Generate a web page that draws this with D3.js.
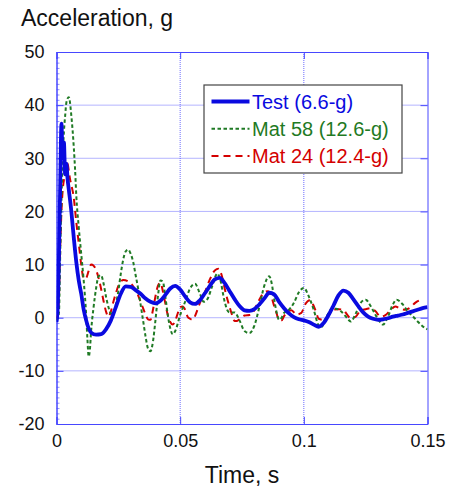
<!DOCTYPE html>
<html>
<head>
<meta charset="utf-8">
<script src="https://cdn.jsdelivr.net/npm/d3@7"></script>
<style>
  body { margin: 0; background: #fff; }
  text { font-family: "Liberation Sans", Arial, sans-serif; fill: #111; }
</style>
</head>
<body>
<div id="chart"></div>
<script>
// Test data (blue, solid)
var testT = [0, 0.0005, 0.001, 0.0015, 0.002, 0.0025, 0.003, 0.0035, 0.004, 0.0045, 0.005, 0.006, 0.007, 0.008, 0.009,
  0.010, 0.011, 0.012, 0.013, 0.014, 0.016, 0.018, 0.020, 0.022, 0.024, 0.026, 0.028, 0.030, 0.032, 0.034, 0.036,
  0.038, 0.040, 0.042, 0.044, 0.046, 0.048, 0.050, 0.052, 0.054, 0.056, 0.058, 0.060, 0.062, 0.064, 0.066, 0.068,
  0.070, 0.072, 0.074, 0.076, 0.078, 0.080, 0.082, 0.084, 0.086, 0.088, 0.090, 0.092, 0.094, 0.096, 0.098, 0.100,
  0.102, 0.104, 0.106, 0.108, 0.110, 0.112, 0.114, 0.116, 0.118, 0.120, 0.122, 0.124, 0.126, 0.128, 0.130, 0.132,
  0.134, 0.136, 0.138, 0.140, 0.142, 0.144, 0.146, 0.148, 0.150]
var testG = [-0.8, 2, 12, 25, 36.5, 30, 33, 27, 29, 26, 24, 20, 15, 10.5, 7,
  4.5, 1.5, -0.5, -2, -2.8, -3.2, -3.1, -2.2, -0.5, 2.0, 4.5, 5.9, 5.8, 5.2, 4.5, 3.6,
  3.0, 2.7, 3.2, 4.3, 5.5, 6.0, 5.3, 4.0, 2.9, 2.6, 3.3, 4.6, 6.0, 7.2, 7.5, 6.5,
  5.0, 3.5, 2.2, 1.4, 1.3, 1.6, 2.5, 3.6, 4.7, 4.4, 3.0, 1.8, 0.8, 0.1, -0.3, -0.5,
  -0.8, -1.3, -1.7, -1.0, 0.5, 2.3, 4.2, 5.1, 4.7, 3.5, 2.2, 1.0, 0.2, -0.2, -0.4, -0.3,
  -0.1, 0.2, 0.4, 0.6, 0.9, 1.2, 1.5, 1.8, 2.0]

// Mat 58 (green, dotted)
var mat58T = [0, 0.0005, 0.001, 0.0015, 0.002, 0.0025, 0.003, 0.0035, 0.004, 0.005, 0.006, 0.007, 0.0075, 0.008,
  0.009, 0.010, 0.011, 0.012, 0.0125, 0.013, 0.0135, 0.014, 0.015, 0.016, 0.017, 0.018, 0.019, 0.020, 0.021, 0.022,
  0.023, 0.024, 0.025, 0.026, 0.027, 0.028, 0.029, 0.030, 0.031, 0.032, 0.033, 0.034, 0.035, 0.036, 0.037, 0.038,
  0.039, 0.040, 0.041, 0.042, 0.043, 0.044, 0.045, 0.046, 0.047, 0.048, 0.050, 0.052, 0.054, 0.056, 0.058, 0.0595,
  0.061, 0.063, 0.065, 0.066, 0.068, 0.069, 0.070, 0.072, 0.074, 0.076, 0.078, 0.080, 0.082, 0.084, 0.086, 0.087,
  0.088, 0.089, 0.090, 0.091, 0.092, 0.094, 0.096, 0.098, 0.100, 0.102, 0.104, 0.106, 0.107, 0.109, 0.111, 0.113,
  0.115, 0.117, 0.119, 0.121, 0.123, 0.125, 0.127, 0.129, 0.131, 0.132, 0.134, 0.136, 0.1375, 0.140, 0.142, 0.144,
  0.146, 0.148, 0.150]
var mat58G = [-0.5, 0, 1, 12, 22, 30, 35, 38, 40.5, 41.5, 38, 32, 28, 23,
  17, 12, 7, 0.5, -4, -7.3, -6, -2.5, 2, 5.5, 7.8, 8, 6.5, 4, 2, 0.8,
  1.0, 2.5, 5, 8.3, 11, 12.5, 12.8, 12, 10.5, 8, 5.5, 2.5, -0.5, -3.5, -5.8, -6.3,
  -4.5, -0.5, 4, 7, 6.8, 4, 0.5, -2, -3.1, -2.5, 0.5, 3, 5.5, 6.4, 4.5, 3.0,
  3.5, 6, 8.3, 7.5, 3, 1.5, 1.0, 1.0, -0.5, -2.5, -2.9, -1.5, 2, 6, 7.8, 6.5,
  3.5, 1.0, -0.4, 0, 0.9, 1.5, 2.8, 4.8, 5.6, 4, 1.5, -1.5, -1.8, 0, 1.5, 1.7,
  1.2, 0.2, -0.7, 0.8, 2.8, 3.4, 2.2, 0.5, -0.9, -1.3, 0.2, 2.5, 3.4, 2.5, 1.2, 0.3,
  -0.7, -1.6, -2.2]

// Mat 24 (red, dashed)
var mat24T = [0, 0.0005, 0.001, 0.0015, 0.002, 0.0025, 0.003, 0.0035, 0.004, 0.0045, 0.005, 0.0055, 0.006, 0.007,
  0.008, 0.009, 0.010, 0.011, 0.012, 0.013, 0.014, 0.015, 0.016, 0.017, 0.018, 0.019, 0.020, 0.021, 0.022, 0.023,
  0.024, 0.025, 0.026, 0.027, 0.029, 0.031, 0.033, 0.034, 0.035, 0.036, 0.037, 0.038, 0.039, 0.040, 0.041, 0.042,
  0.043, 0.044, 0.045, 0.046, 0.047, 0.048, 0.049, 0.050, 0.051, 0.052, 0.053, 0.054, 0.055, 0.056, 0.057, 0.058,
  0.060, 0.062, 0.064, 0.0655, 0.067, 0.068, 0.069, 0.070, 0.071, 0.072, 0.073, 0.074, 0.075, 0.076, 0.078, 0.079,
  0.080, 0.082, 0.084, 0.0855, 0.087, 0.088, 0.089, 0.090, 0.091, 0.092, 0.094, 0.095, 0.097, 0.099, 0.1005, 0.1025,
  0.104, 0.105, 0.106, 0.108, 0.110, 0.112, 0.114, 0.116, 0.117, 0.119, 0.121, 0.123, 0.125, 0.127, 0.129, 0.131,
  0.133, 0.135, 0.137, 0.139, 0.141, 0.143, 0.145, 0.1475]
var mat24G = [0, 0.5, 4, 13, 20, 24, 26, 28, 29, 29, 27.5, 26, 25, 22.5,
  18, 14, 10, 7.3, 7.5, 8.8, 10, 9.8, 9, 7.5, 5.5, 3.2, 1.2, 0.2, 1.2, 3,
  4.6, 6, 6.8, 7.1, 6.8, 5.9, 4.2, 3.0, 1.8, 0.6, -0.3, -0.4, 1.5, 4, 6, 6.6,
  5, 2.7, 0.5, -0.8, -1.3, -0.6, 0.8, 2.0, 2.1, 1.5, 0.2, -0.2, -0.4, 0.3, 1.5, 2.8,
  4.8, 7.2, 8.9, 9.2, 7.6, 5.5, 3.6, 2.0, 0.5, -0.6, -0.6, -0.3, 0.1, 0.4, 0.5, 0.6,
  1.5, 3.4, 4.8, 5.0, 3.8, 2.2, 0.8, -0.5, -0.5, 0.3, 1.3, 1.4, 0.6, 0.9, 2.5, 3.3,
  2.2, 1.0, -0.2, -0.4, 0.5, 1.5, 1.6, 1.5, 0.9, -0.1, 0.2, 1.4, 1.6, 1.8, 1.2, 0.2,
  0.5, 1.4, 2.1, 1.7, 1.5, 1.9, 2.8, 3.4]

var xTicks = [0, 0.05, 0.1, 0.15]
var xTickLabels = ['0', '0.05', '0.1', '0.15']
var yTicks = [-20, -10, 0, 10, 20, 30, 40, 50]
var legendLabels = ['Test (6.6-g)', 'Mat 58 (12.6-g)', 'Mat 24 (12.4-g)']

var series = [
  { name: legendLabels[0], t: testT, g: testG, color: '#0a0ae0', width: 3.8, dash: null },
  { name: legendLabels[1], t: mat58T, g: mat58G, color: '#1f7a24', width: 2, dash: '3.5,2.5' },
  { name: legendLabels[2], t: mat24T, g: mat24G, color: '#d40000', width: 2, dash: '7,5' }
]

var W = 451, H = 490
var pLeft = 56.5, pRight = 427.5, pTop = 52, pBottom = 424
var frameColor = '#4848ff'

var xScale = d3.scaleLinear().domain([0, 0.15]).range([pLeft, pRight])
var yScale = d3.scaleLinear().domain([-20, 50]).range([pBottom, pTop])

var svg = d3.select('#chart').append('svg')
    .attr('width', W)
    .attr('height', H)

// grid (dotted)
svg.append('g').selectAll('line')
    .data(xTicks.slice(1, -1))
    .enter().append('line')
    .attr('x1', function (d) { return xScale(d) }).attr('x2', function (d) { return xScale(d) })
    .attr('y1', pTop).attr('y2', pBottom)
    .attr('stroke', frameColor).attr('stroke-width', 1).attr('stroke-dasharray', '1,1')
    .attr('opacity', 0.8)
svg.append('g').selectAll('line')
    .data(yTicks.slice(1, -1))
    .enter().append('line')
    .attr('y1', function (d) { return yScale(d) }).attr('y2', function (d) { return yScale(d) })
    .attr('x1', pLeft).attr('x2', pRight)
    .attr('stroke', frameColor).attr('stroke-width', 1).attr('stroke-dasharray', '1,1')
    .attr('opacity', 0.8)

// axes with inward ticks
var xAxisB = d3.axisBottom(xScale).tickValues(xTicks).tickSize(-7).tickPadding(10)
    .tickFormat(function (d, i) { return xTickLabels[i] })
var xAxisT = d3.axisTop(xScale).tickValues(xTicks).tickSize(-7).tickFormat('')
var yAxisL = d3.axisLeft(yScale).tickValues(yTicks).tickSize(-7).tickPadding(12)
    .tickFormat(function (d) { return String(d) })
var yAxisR = d3.axisRight(yScale).tickValues(yTicks).tickSize(-7).tickFormat('')
var yMinor = d3.axisLeft(yScale).tickValues(d3.range(-20, 51, 1)).tickSize(-3).tickFormat('')

function styleAxis(g) {
  g.selectAll('path, line').attr('stroke', frameColor)
  g.selectAll('text').style('font-size', '18px').style('font-family', '"Liberation Sans", Arial, sans-serif').attr('fill', '#111')
}

svg.append('g').attr('transform', 'translate(0,' + pBottom + ')').call(xAxisB).call(styleAxis)
svg.append('g').attr('transform', 'translate(0,' + pTop + ')').call(xAxisT).call(styleAxis)
svg.append('g').attr('transform', 'translate(' + pLeft + ',0)').call(yMinor).call(styleAxis)
    .selectAll('line').attr('stroke-width', 0.6)
svg.append('g').attr('transform', 'translate(' + pLeft + ',0)').call(yAxisL).call(styleAxis)
svg.append('g').attr('transform', 'translate(' + pRight + ',0)').call(yAxisR).call(styleAxis)

// clip
svg.append('clipPath').attr('id', 'plotClip')
  .append('rect').attr('x', pLeft).attr('y', pTop).attr('width', pRight - pLeft).attr('height', pBottom - pTop)

var line = d3.line()
    .x(function (d) { return xScale(d[0]) })
    .y(function (d) { return yScale(d[1]) })
    .curve(d3.curveMonotoneX)

// draw red, green, then blue on top
var drawOrder = [series[2], series[1], series[0]]
svg.append('g').attr('clip-path', 'url(#plotClip)')
  .selectAll('path')
    .data(drawOrder)
    .enter().append('path')
    .attr('d', function (s) { return line(s.t.map(function (t, i) { return [t, s.g[i]] })) })
    .attr('fill', 'none')
    .attr('stroke', function (s) { return s.color })
    .attr('stroke-width', function (s) { return s.width })
    .attr('stroke-dasharray', function (s) { return s.dash })
    .attr('stroke-linejoin', 'round')

// legend
var lg = svg.append('g')
lg.append('rect')
    .attr('x', 204).attr('y', 85).attr('width', 198).attr('height', 88)
    .attr('fill', '#fff').attr('stroke', '#444').attr('stroke-width', 1.2)
var items = lg.selectAll('g.item')
    .data(series)
    .enter().append('g')
    .attr('transform', function (d, i) { return 'translate(0,' + (101.5 + i * 27.3) + ')' })
items.append('line')
    .attr('x1', 211.5).attr('x2', 249.5).attr('y1', 0).attr('y2', 0)
    .attr('stroke', function (d) { return d.color })
    .attr('stroke-width', function (d) { return d.width })
    .attr('stroke-dasharray', function (d) { return d.dash })
items.append('text')
    .attr('x', 252).attr('y', 7)
    .style('font-size', '20px')
    .style('fill', function (d) { return d.color })
    .text(function (d) { return d.name })

// titles
svg.append('text')
    .attr('x', 21).attr('y', 26)
    .style('font-size', '23px')
    .text('Acceleration, g')
svg.append('text')
    .attr('x', (pLeft + pRight) / 2).attr('y', 483)
    .attr('text-anchor', 'middle')
    .style('font-size', '23px')
    .text('Time, s')
</script>
</body>
</html>
